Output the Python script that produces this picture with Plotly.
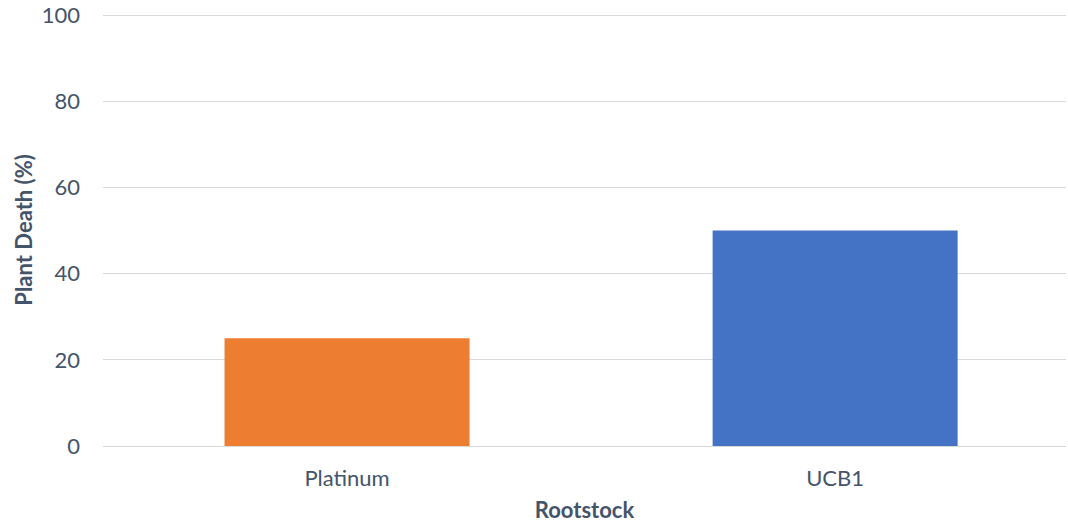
import plotly.graph_objects as go

categories = ["Platinum", "UCB1"]
values = [25, 50]
colors = ["#ED7D31", "#4472C4"]
y_ticks = [0, 20, 40, 60, 80, 100]

fig = go.Figure(go.Bar(x=categories, y=values, marker=dict(color=colors, line=dict(width=0)), width=0.502))

text_color = "#44546A"
fig.update_layout(
    width=1068, height=523,
    margin=dict(l=103, r=2, t=14, b=77, autoexpand=False),
    paper_bgcolor="white", plot_bgcolor="white",
    font=dict(family="Lato, Open Sans, sans-serif", size=22, color=text_color),
    showlegend=False,
)
fig.update_xaxes(
    title=dict(text="<b>Rootstock</b>", font=dict(size=22, color=text_color), standoff=14),
    showgrid=False, showline=False, ticks="", tickfont=dict(size=22, color=text_color),
    range=[-0.5, 1.473], automargin=False, ticklabelstandoff=17,
)
fig.update_yaxes(
    title=dict(text="<b>Plant Death (%)</b>", font=dict(size=22, color=text_color), standoff=3),
    range=[0, 100.25], tickvals=y_ticks, showgrid=True, gridcolor="#D9D9D9", gridwidth=1,
    zeroline=True, zerolinecolor="#D9D9D9", zerolinewidth=1, showline=False, ticks="",
    ticklabelstandoff=22, tickfont=dict(size=22, color=text_color), automargin=False,
)
fig.write_html("out.html", config={"displayModeBar": False},
               post_script="document.body.style.margin='0';")
